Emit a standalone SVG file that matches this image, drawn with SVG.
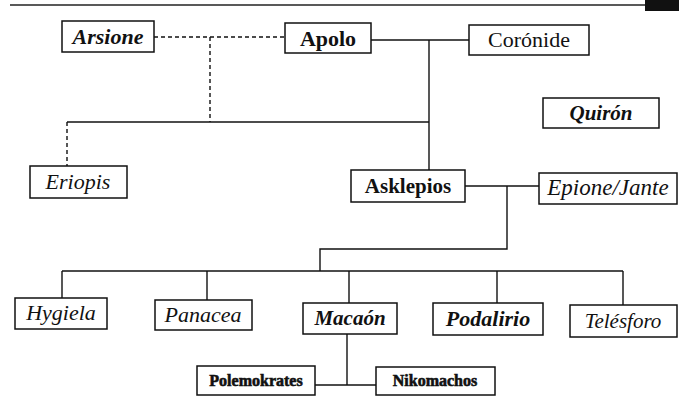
<svg xmlns="http://www.w3.org/2000/svg" width="679" height="397" viewBox="0 0 679 397" font-family="'Liberation Serif', 'DejaVu Serif', serif">
  <style>
    .box { fill: #fff; stroke: #111; stroke-width: 1.5; }
    .lbl { font-family: "Liberation Serif", "DejaVu Serif", serif; fill: #111; text-anchor: middle; }
    .b { font-weight: bold; }
    .i { font-style: italic; }
    .bi { font-weight: bold; font-style: italic; }
    .heavy { font-weight: bold; stroke: #111; stroke-width: 0.6; }
    .solid { fill: none; stroke: #111; stroke-width: 1.4; }
    .dash { fill: none; stroke: #111; stroke-width: 1.4; stroke-dasharray: 4 3; }
  </style>
  <rect width="679" height="397" fill="#fff"/>
  <!-- header rule and corner tab -->
  <line x1="10" y1="5" x2="679" y2="5" stroke="#222" stroke-width="1.5"/>
  <rect x="645" y="0" width="34" height="11" fill="#111"/>

  <g id="connectors">
    <path class="dash" d="M154,37 H285"/>
    <path class="dash" d="M210,37 V122"/>
    <path class="dash" d="M67,122 V166"/>
    <path class="solid" d="M67,122 H429"/>
    <path class="solid" d="M371,40 H469"/>
    <path class="solid" d="M429,40 V170"/>
    <path class="solid" d="M465,186 H539"/>
    <path class="solid" d="M507,186 V249 H320 V271"/>
    <path class="solid" d="M62,271 H623"/>
    <path class="solid" d="M62,271 V298"/>
    <path class="solid" d="M207,271 V300"/>
    <path class="solid" d="M349,271 V303"/>
    <path class="solid" d="M497,271 V303"/>
    <path class="solid" d="M623,271 V305"/>
    <path class="solid" d="M347,334 V385"/>
    <path class="solid" d="M315,385 H376"/>
  </g>

  <g id="arsione">
    <rect class="box" x="62" y="21" width="92" height="31"/>
    <text class="lbl bi" x="108" y="44" font-size="22">Arsione</text>
  </g>
  <g id="apolo">
    <rect class="box" x="285" y="23" width="86" height="30"/>
    <text class="lbl b" x="328" y="46" font-size="22">Apolo</text>
  </g>
  <g id="coronide">
    <rect class="box" x="469" y="25" width="120" height="30"/>
    <text class="lbl" x="529" y="47" font-size="22">Corónide</text>
  </g>
  <g id="quiron">
    <rect class="box" x="543" y="98" width="116" height="30"/>
    <text class="lbl bi" x="601" y="120" font-size="21">Quirón</text>
  </g>
  <g id="eriopis">
    <rect class="box" x="30" y="166" width="97" height="32"/>
    <text class="lbl i" x="78" y="189" font-size="22">Eriopis</text>
  </g>
  <g id="asklepios">
    <rect class="box" x="351" y="170" width="114" height="32"/>
    <text class="lbl b" x="408" y="193" font-size="21">Asklepios</text>
  </g>
  <g id="epione-jante">
    <rect class="box" x="539" y="173" width="138" height="31"/>
    <text class="lbl i" x="608" y="195" font-size="23">Epione/Jante</text>
  </g>
  <g id="hygiela">
    <rect class="box" x="15" y="298" width="92" height="31"/>
    <text class="lbl i" x="61" y="320" font-size="22">Hygiela</text>
  </g>
  <g id="panacea">
    <rect class="box" x="155" y="300" width="97" height="30"/>
    <text class="lbl i" x="203" y="322" font-size="22">Panacea</text>
  </g>
  <g id="macaon">
    <rect class="box" x="303" y="303" width="94" height="31"/>
    <text class="lbl bi" x="350" y="325" font-size="21">Macaón</text>
  </g>
  <g id="podalirio">
    <rect class="box" x="433" y="303" width="110" height="32"/>
    <text class="lbl bi" x="488" y="326" font-size="22">Podalirio</text>
  </g>
  <g id="telesforo">
    <rect class="box" x="570" y="305" width="107" height="32"/>
    <text class="lbl i" x="623" y="328" font-size="21">Telésforo</text>
  </g>
  <g id="polemokrates">
    <rect class="box" x="197" y="366" width="118" height="29"/>
    <text class="lbl heavy" x="256" y="386" font-size="16">Polemokrates</text>
  </g>
  <g id="nikomachos">
    <rect class="box" x="376" y="367" width="119" height="28"/>
    <text class="lbl heavy" x="435" y="386" font-size="16">Nikomachos</text>
  </g>
</svg>
